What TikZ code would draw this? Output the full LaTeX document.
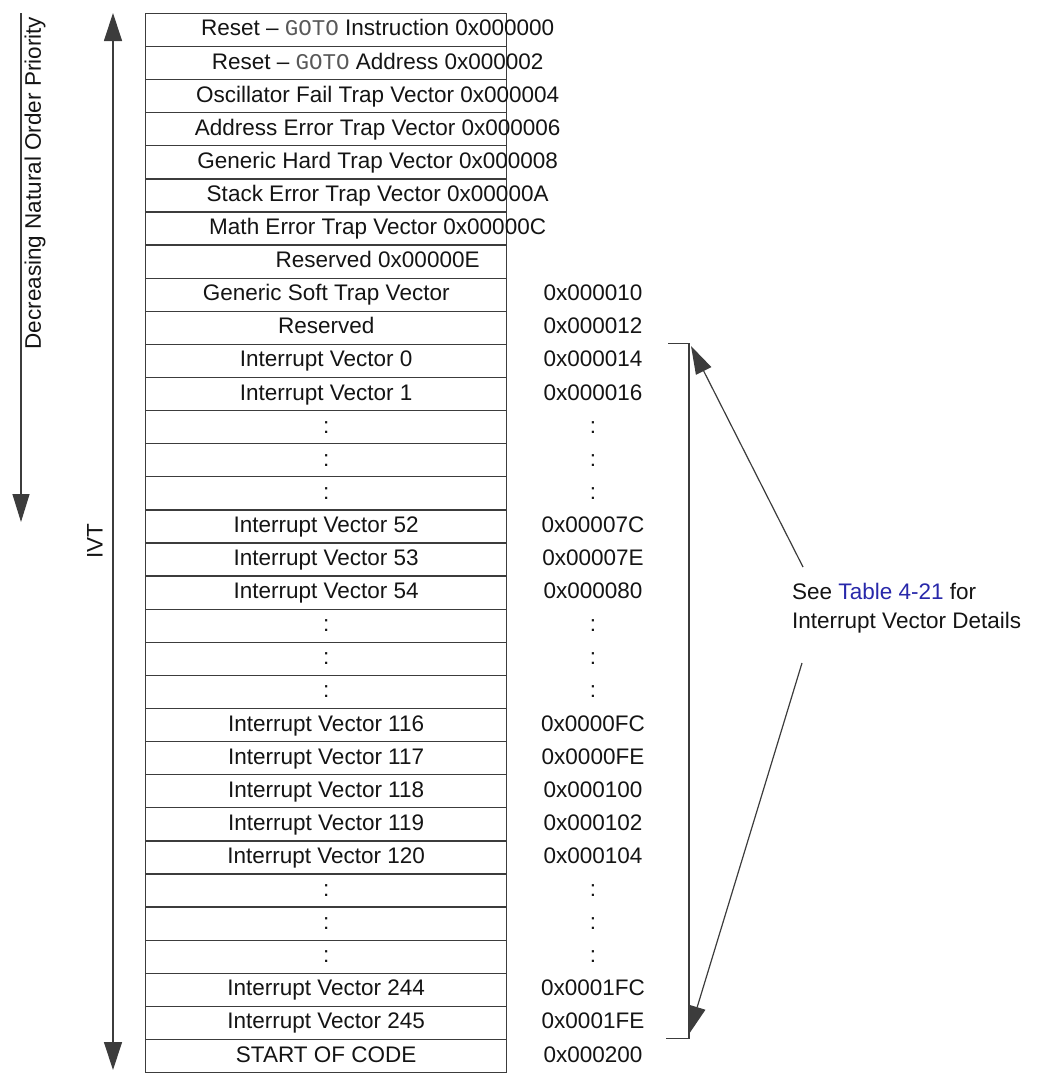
\documentclass[tikz,border=0pt]{standalone}
\usepackage{fontspec}
\setmainfont{Liberation Sans}
\newfontfamily\monofnt{Liberation Mono}
\usetikzlibrary{arrows.meta}
\definecolor{linkblue}{RGB}{40,40,170}
\definecolor{ln}{RGB}{60,60,60}
\definecolor{tx}{RGB}{20,20,20}
\begin{document}
\begin{tikzpicture}[x=1pt,y=-1pt,
  font=\fontsize{22.5}{29}\selectfont,
  rowbox/.style={draw=ln, line width=1.3pt, minimum width=361pt, minimum height=33.1pt, inner sep=0pt, anchor=north west},
  txt/.style={inner sep=0pt, text=tx},
  celltxt/.style={txt, text height=16.5pt, text depth=4.5pt},
  arr/.style={draw=ln, line width=1.2pt, -{Triangle[length=28pt,width=17pt]}},
  dblarr/.style={draw=ln, line width=1.2pt, {Triangle[length=28pt,width=18pt]}-{Triangle[length=28pt,width=18pt]}},
  bracket/.style={draw=ln, line width=1.2pt}
]
\useasboundingbox (0,0) rectangle (1037,1079);

% table rows
\foreach \lab [count=\i] in {
  {Reset \textendash{} {\monofnt\color{black!65}GOTO} Instruction 0x000000},
  {Reset \textendash{} {\monofnt\color{black!65}GOTO} Address 0x000002},
  {Oscillator Fail Trap Vector 0x000004},
  {Address Error Trap Vector 0x000006},
  {Generic Hard Trap Vector 0x000008},
  {Stack Error Trap Vector 0x00000A},
  {Math Error Trap Vector 0x00000C},
  {Reserved 0x00000E},
  {Generic Soft Trap Vector},
  {Reserved},
  {Interrupt Vector 0},
  {Interrupt Vector 1},
  {:},{:},{:},
  {Interrupt Vector 52},
  {Interrupt Vector 53},
  {Interrupt Vector 54},
  {:},{:},{:},
  {Interrupt Vector 116},
  {Interrupt Vector 117},
  {Interrupt Vector 118},
  {Interrupt Vector 119},
  {Interrupt Vector 120},
  {:},{:},{:},
  {Interrupt Vector 244},
  {Interrupt Vector 245},
  {START OF CODE}}{
  \pgfmathsetmacro\rtop{12.7+(\i-1)*33.1}
  \node[rowbox] (row\i) at (145,\rtop) {};
  \ifnum\i<9
    \node[celltxt] (lab\i) at ([xshift=51.5pt]row\i.center) {\lab};
  \else
    \node[celltxt] (lab\i) at (row\i.center) {\lab};
  \fi
}

% address column
\foreach \adr [count=\j from 9] in {
  0x000010, 0x000012, 0x000014, 0x000016, :, :, :,
  0x00007C, 0x00007E, 0x000080, :, :, :,
  0x0000FC, 0x0000FE, 0x000100, 0x000102, 0x000104, :, :, :,
  0x0001FC, 0x0001FE, 0x000200}{
  \node[celltxt] (adr\j) at (row\j.center -| 593,0) {\adr};
}

% left arrows and labels
\coordinate (ivtTop) at (113,13);
\coordinate (ivtBot) at (113,1070);
\draw[dblarr] (ivtTop) -- (ivtBot);
\node[txt, rotate=90] (ivt) at (95,541) {IVT};

\coordinate (decTop) at (21,13);
\coordinate (decBot) at (21,522);
\draw[arr] (decTop) -- (decBot);
\node[txt, rotate=90] (dec) at (35,183) {Decreasing Natural Order Priority};

% bracket on the right
\coordinate (bt1) at (668,343.7);
\coordinate (bt2) at (689,343.7);
\coordinate (bb2) at (689,1038.8);
\coordinate (bb1) at (666,1038.8);
\draw[bracket] (bt1) -- (bt2) -- (bb2) -- (bb1);

% note
\node[txt, anchor=north west, align=left] (note) at (792,583)
  {See \textcolor{linkblue}{Table 4-21} for\\Interrupt Vector Details};

\coordinate (upTail) at (803,567);
\coordinate (upTip) at (691,346);
\coordinate (dnTail) at (802,663);
\coordinate (dnTip) at (689,1034);
\draw[arr] (upTail) -- (upTip);
\draw[arr] (dnTail) -- (dnTip);
\end{tikzpicture}
\end{document}
